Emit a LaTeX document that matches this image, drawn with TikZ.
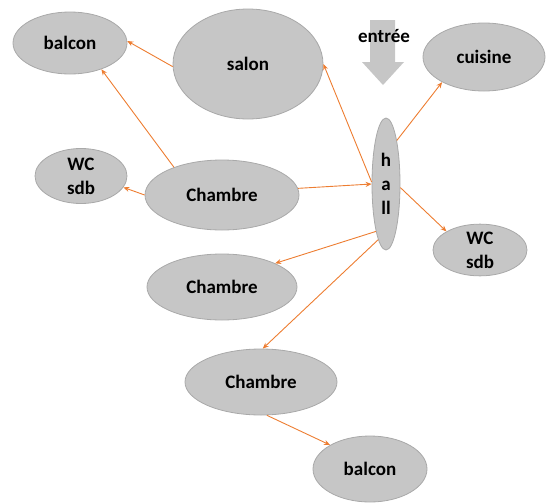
\documentclass[tikz,border=0pt]{standalone}
\usepackage{fontspec}
\setmainfont{Carlito}
\usetikzlibrary{shapes.geometric,shapes.arrows,arrows.meta}
\definecolor{roomfill}{HTML}{C6C6C6}
\definecolor{roomline}{HTML}{A9A9A9}
\definecolor{link}{HTML}{ED7D31}
\tikzset{
  room/.style={ellipse, fill=roomfill, draw=roomline, line width=0.8pt, inner sep=0pt,
    font=\fontsize{19}{24}\selectfont\bfseries, align=center},
  arr/.style={draw=link, line width=0.9pt, -{Stealth[length=6pt,width=5pt]}}
}
\begin{document}
\begin{tikzpicture}[x=1pt,y=-1pt]
\useasboundingbox (0,0) rectangle (547,504);
% entrance arrow
\fill[roomfill] (370,20) -- (395,20) -- (395,62) -- (404,62) -- (383,85) -- (362,62) -- (370,62) -- cycle;
\node[font=\fontsize{19}{24}\selectfont\bfseries] (entree) at (384,36) {entrée};
% rooms
\node[room, minimum width=114pt, minimum height=62pt] (balconA) at (70,43) {balcon};
\node[room, minimum width=150pt, minimum height=110pt] (salon) at (248,64) {salon};
\node[room, minimum width=122pt, minimum height=68pt] (cuisine) at (484,57) {cuisine};
\node[room, minimum width=28pt, minimum height=132pt, font=\fontsize{19}{24}\selectfont\bfseries] (hall) at (386,184) {h\\a\\ll};
\node[room, minimum width=92pt, minimum height=55pt] (wcA) at (81,176) {WC\\sdb};
\node[room, minimum width=154pt, minimum height=70pt] (chA) at (222,195) {Chambre};
\node[room, minimum width=94pt, minimum height=48pt] (wcB) at (480,250) {WC\\sdb};
\node[room, minimum width=150pt, minimum height=66pt] (chB) at (222,287) {Chambre};
\node[room, minimum width=152pt, minimum height=66pt] (chC) at (261,382) {Chambre};
\node[room, minimum width=114pt, minimum height=66pt] (balconB) at (370,469) {balcon};
% connectors
\draw[arr] (salon.182) -- (balconA.2);
\draw[arr] (chA.150) -- (balconA.320);
\draw[arr] (chA.180) -- (wcA.345);
\draw[arr] (chA.5) -- (hall.180);
\draw[arr] (hall.172) -- (salon.0);
\draw[arr] (hall.76) -- (cuisine.211);
\draw[arr] (hall.346) -- (wcB.151);
\draw[arr] (hall.258) -- (chB.24);
\draw[arr] (hall.262) -- (chC.87);
\draw[arr] (chC.280) -- (balconB.149);
\end{tikzpicture}
\end{document}
